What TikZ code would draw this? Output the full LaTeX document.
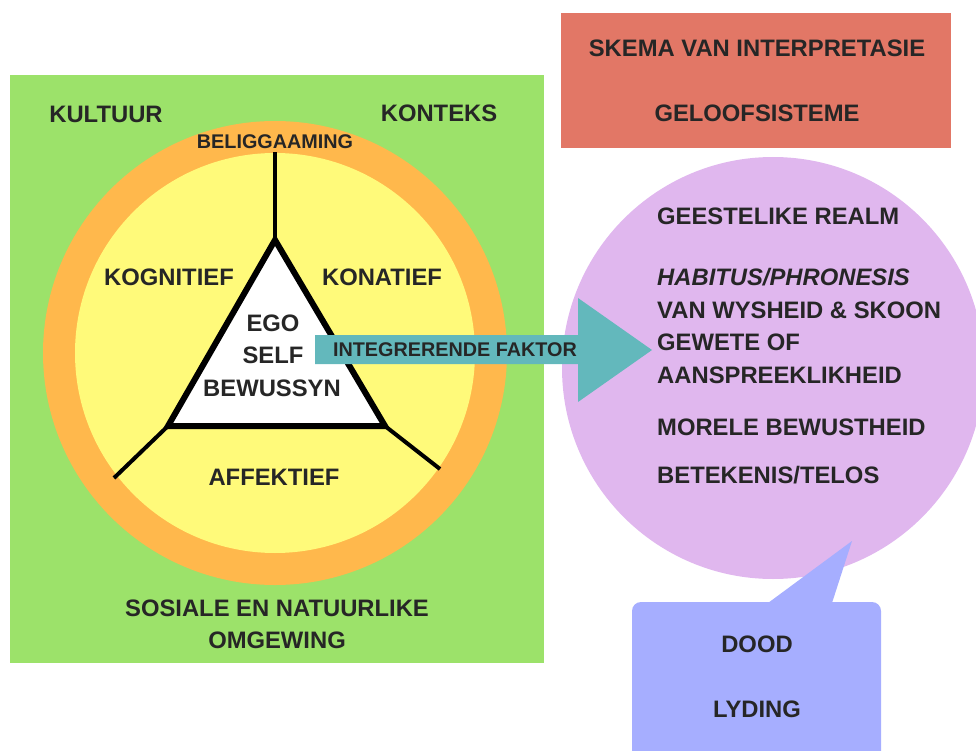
\documentclass[tikz,border=0pt]{standalone}
\usepackage{fontspec}
\setmainfont{Liberation Sans}
\usepackage{xcolor}
\usepackage{tikz}
\usetikzlibrary{positioning,calc}
\definecolor{veld}{HTML}{9CE26A}
\definecolor{oranje}{HTML}{FFB84C}
\definecolor{geel}{HTML}{FFFA7A}
\definecolor{rooi}{HTML}{E27766}
\definecolor{pers}{HTML}{E0B7EE}
\definecolor{blou}{HTML}{A6AEFF}
\definecolor{blougroen}{HTML}{63B8BC}
\definecolor{ink}{HTML}{262626}
\tikzset{
  groot/.style={font=\fontsize{23.8}{28}\selectfont\bfseries, text=ink, inner sep=0pt},
  klein/.style={font=\fontsize{19.8}{24}\selectfont\bfseries, text=ink, inner sep=0pt},
  lys/.style={groot, anchor=base west},
  speek/.style={line width=4pt, black},
}

\begin{document}
\begin{tikzpicture}[x=1pt,y=-1pt]
    \useasboundingbox (0,0) rectangle (976,751);
    \fill[veld] (10,75) rectangle (544,663);
    \fill[oranje] (275,353) circle (232pt);
    \fill[geel] (275,353) circle (200pt);
    \coordinate (top) at (275,240);
    \coordinate (links) at (168,426);
    \coordinate (regs) at (385,426);
    \coordinate (bo) at (275,152);
    \coordinate (linksonder) at (114,478);
    \coordinate (regsonder) at (440,469);
    \draw[speek] (top) -- (bo);
    \draw[speek] (links) -- (linksonder);
    \draw[speek] (regs) -- (regsonder);
    \draw[line width=6pt, fill=white] (top) -- (links) -- (regs) -- cycle;
    \node[groot] (kultuur) at (106,114) {KULTUUR};
    \node[groot] (konteks) at (439,113) {KONTEKS};
    \node[klein] (liggaam) at (275,142) {BELIGGAAMING};
    \node[groot] (kognitief) at (169,277) {KOGNITIEF};
    \node[groot] (konatief) at (382,277) {KONATIEF};
    \node[groot] (ego) at (273,323) {EGO};
    \node[groot] (self) at (273,355) {SELF};
    \node[groot] (bewus) at (272,388) {BEWUSSYN};
    \node[groot] (affektief) at (274,477) {AFFEKTIEF};
    \node[groot] (sosiaal) at (277,608) {SOSIALE EN NATUURLIKE};
    \node[groot] (omgewing) at (277,640) {OMGEWING};
    \fill[rooi] (561,13) rectangle (951,148);
    \node[groot] (skema) at (757,48) {SKEMA VAN INTERPRETASIE};
    \node[groot] (geloof) at (757,113) {GELOOFSISTEME};
    \fill[pers] (773,368) circle (211pt);
    \fill[blougroen] (315,335) -- (578,335) -- (578,298) -- (652,350)
        -- (578,402) -- (578,364) -- (315,364) -- cycle;
    \node[klein] (faktor) at (455,350) {INTEGRERENDE FAKTOR};
    \fill[blou, rounded corners=9pt] (632,602) rectangle (881,780);
    \fill[blou] (768,603) -- (852,541) -- (832,603) -- cycle;
    \node[lys] (realm) at (657,225) {GEESTELIKE REALM};
    \node[lys] (habitus) at (657,285) {\itshape HABITUS/PHRONESIS};
    \node[lys] (wysheid) at (657,318) {VAN WYSHEID \& SKOON};
    \node[lys] (gewete) at (657,350) {GEWETE OF};
    \node[lys] (aanspreek) at (657,383) {AANSPREEKLIKHEID};
    \node[lys] (moreel) at (657,435) {MORELE BEWUSTHEID};
    \node[lys] (telos) at (657,483) {BETEKENIS/TELOS};
    \node[groot] (dood) at (757,644) {DOOD};
    \node[groot] (lyding) at (757,709) {LYDING};
\end{tikzpicture}
\end{document}
